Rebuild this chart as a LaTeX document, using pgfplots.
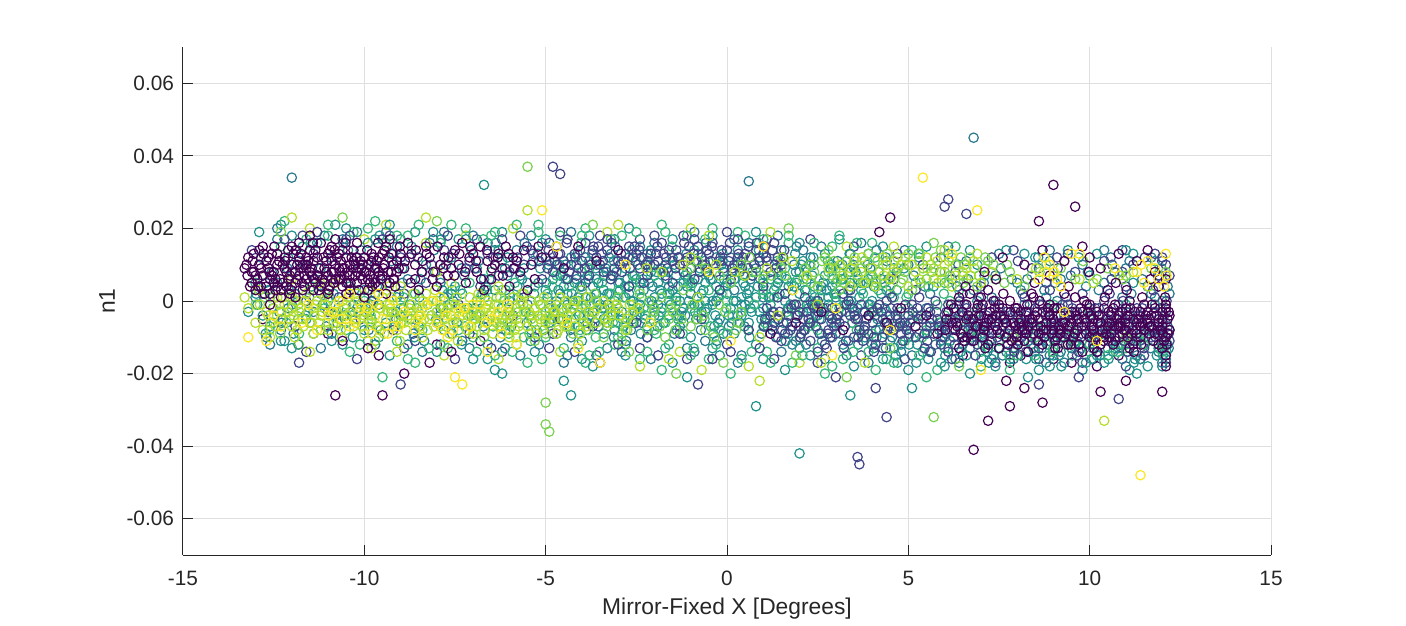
\documentclass[border=0pt]{standalone}
\usepackage{pgfplots}
\pgfplotsset{compat=1.18}
\usepackage{fontspec}
\setmainfont{Liberation Sans}
\definecolor{axgray}{RGB}{38,38,38}
\definecolor{gridgray}{RGB}{223,223,223}
\definecolor{cP}{RGB}{68,1,84}
\definecolor{cI}{RGB}{65,68,135}
\definecolor{cBT}{RGB}{42,120,142}
\definecolor{cT}{RGB}{33,145,140}
\definecolor{cGT}{RGB}{53,183,121}
\definecolor{cG}{RGB}{122,209,81}
\definecolor{cYG}{RGB}{181,222,43}
\definecolor{cY}{RGB}{253,231,37}
\pgfplotsset{sc/.style={only marks, mark=o, mark size=2.35pt, line width=0.6pt, color=#1}}
\begin{document}
\begin{tikzpicture}
\begin{axis}[
 scale only axis, width=544pt, height=254pt,
 xmin=-15, xmax=15, ymin=-70, ymax=70,
 xtick={-15,-10,-5,0,5,10,15},
 ytick={-60,-40,-20,0,20,40,60},
 yticklabels={-0.06,-0.04,-0.02,0,0.02,0.04,0.06},
 /pgf/number format/assume math mode=true,
 axis x line*=bottom, axis y line*=left,
 tick align=inside, major tick length=5.2pt,
 grid=major, major grid style={color=gridgray, line width=0.5pt},
 axis line style={color=axgray, line width=0.5pt},
 tick style={color=axgray, line width=0.5pt},
 ticklabel style={font=\fontsize{10.4}{12}\selectfont, text=axgray},
 xticklabel style={yshift=-4.5pt},
 yticklabel style={xshift=-1pt},
 xlabel={Mirror-Fixed X [Degrees]}, ylabel={n1},
 label style={font=\fontsize{11.4}{13}\selectfont, text=axgray},
 xlabel style={at={(axis description cs:0.5,0)}, anchor=base, yshift=-29.5pt},
 ylabel style={at={(axis description cs:0,0.5)}, anchor=base, yshift=34pt},
]
% fringe points
\addplot[sc=cBT] coordinates {
(-12.4,17)(-11.3,16)(-10.2,19)(-9.0,17)(-7.8,19)(-6.6,16)(-5.4,18)(-4.3,19)(-3.1,17)(-2.0,16)
(-0.9,19)(0.2,17)(1.4,18)(2.6,15)(3.7,16)(4.9,14)(6.1,15)(7.5,13)(8.9,14)(10.4,14)(11.7,12)
(-12.6,-12)(-11.2,-13)(-9.9,-11)(-8.4,-14)(-7.1,-13)(-5.7,-15)(-4.5,-17)(-3.3,-13)(-2.1,-16)(-0.9,-14)
(0.3,-17)(1.5,-14)(2.7,-16)(3.9,-17)(5.1,-15)(6.4,-17)(7.6,-15)(8.8,-17)(10.1,-16)(11.3,-15)(12.1,-16)
};
\addplot[sc=cT] coordinates {
(-12.0,18)(-10.8,21)(-9.7,17)(-8.6,19)(-7.4,17)(-6.2,19)(-5.0,17)(-3.8,18)(-2.7,20)(-1.5,17)
(-0.4,18)(0.8,19)(2.0,16)(3.1,17)(4.3,15)(5.5,15)(6.7,14)(8.2,13)(9.7,12)(11.2,13)
(-12.0,-13)(-10.6,-12)(-9.3,-15)(-7.9,-12)(-6.6,-16)(-5.3,-14)(-4.0,-16)(-2.8,-15)(-1.5,-17)(-0.2,-15)
(1.0,-16)(2.3,-15)(3.5,-18)(4.7,-17)(6.0,-18)(7.3,-16)(8.6,-19)(9.9,-17)(11.1,-19)(12.0,-18)
};
\addplot[sc=cI] coordinates {
(-11.7,18)(-10.5,17)(-9.3,18)(-8.1,17)(-6.9,17)(-5.7,18)(-4.6,19)(-3.5,18)(-2.4,17)(-1.2,18)
(0.0,19)(1.1,17)(2.3,17)(3.5,15)(4.7,13)(5.9,12)(7.9,14)(9.4,13)(10.9,14)(12.0,11)
(-11.6,-14)(-10.2,-16)(-8.9,-13)(-7.5,-16)(-6.2,-14)(-4.9,-13)(-3.6,-15)(-2.4,-13)(-1.1,-16)(0.1,-14)
(1.3,-16)(2.5,-17)(3.7,-15)(4.9,-16)(6.2,-16)(7.4,-17)(8.6,-16)(9.8,-17)(11.0,-18)(12.1,-17)
};
\addplot[sc=cGT] coordinates {
(-12.3,15)(-11.0,18)(-9.9,20)(-8.8,18)(-7.6,21)(-6.4,19)(-5.2,21)(-4.0,18)(-2.9,18)(-1.7,19)
(-0.6,17)(0.5,18)(1.7,16)(2.9,15)(4.0,16)(5.1,14)(6.3,15)
(-10.4,-14)(-8.6,-17)(-6.9,-14)(-5.5,-17)(-3.9,-17)(-2.2,-14)(-0.5,-16)(1.2,-17)(2.9,-18)(4.4,-16)
(5.8,-19)(7.0,-18)
};
\addplot[sc=cYG] coordinates {
(-11.5,20)(-9.4,21)(-7.2,18)(-5.9,20)(-3.3,19)(-1.0,20)(1.2,19)(3.3,15)(4.6,15)(6.0,14)
(6.9,13)(-10.0,17)(-8.3,16)
(-11.8,-12)(-9.1,-14)(-7.8,-15)(-6.3,-16)(-4.6,-14)(-1.3,-14)(0.6,-18)(2.0,-17)
};
\addplot[sc=cP] coordinates {
(-12.8,-5)(-11.0,-9)(-9.6,-15)(-8.0,-12)(-6.8,-11)(6.5,-15)(7.8,-17)(9.0,-16)(10.2,-18)(11.4,-16)
(12.1,-18)(8.1,-15)(10.8,-15)(9.5,-17)
};
% blue-teal
\addplot[sc=cBT] coordinates {
(-13.0,1)(-12.7,-10)(-12.4,20)(-12.1,-2)(-11.8,11)(-11.5,-6)(-11.2,2)(-10.9,-9)(-10.6,17)(-10.3,-1)
(-10.0,3)(-9.7,-12)(-9.4,19)(-9.1,-3)(-8.8,6)(-8.5,-7)(-8.2,16)(-7.9,-2)(-7.6,2)(-7.3,-11)
(-7.0,18)(-6.7,-5)(-6.4,3)(-6.1,-8)(-5.8,14)(-5.5,-1)(-5.2,5)(-4.9,-6)(-4.6,2)(-4.3,-10)
(-4.0,4)(-3.7,-3)(-3.4,7)(-3.1,-8)(-2.8,1)(-2.5,-4)(-2.2,10)(-1.9,-1)(-1.6,4)(-1.3,-7)
(-1.0,2)(-0.7,-3)(-0.4,6)(-0.1,-9)(0.2,3)(0.5,-1)(0.8,9)(1.1,-5)(1.4,5)(1.7,-2)
(2.0,8)(2.3,-6)(2.6,4)(2.9,-10)(3.2,6)(3.5,-3)(3.8,11)(4.1,-8)(4.4,3)(4.7,-4)
(5.0,10)(5.3,-9)(5.6,2)(5.9,-6)(6.2,6)(6.5,-12)(6.8,3)(7.1,-9)(7.4,7)(7.7,-14)
(8.0,5)(8.3,-11)(8.6,9)(8.9,-15)(9.2,6)(9.5,-13)(9.8,10)(10.1,-11)(10.4,5)(10.7,-13)
(11.0,9)(11.3,-11)(11.6,4)(11.9,-14)(12.1,7)(-3.9,12)(-2.4,15)(-0.8,13)(0.6,16)(2.1,14)
(3.4,13)(-4.4,-15)(-2.9,-14)(-1.1,-13)(0.4,-15)(1.8,-12)(3.3,-15)(4.8,-14)(6.3,-16)(7.9,-16)
(9.3,-17)(10.9,-16)(12.0,-17)(-12.0,34)(6.8,45)(0.6,33)(-1.0,2)(-1.2,-2)(-0.3,0)(0.3,-4)
(1.0,1)(-2.0,-3)(-2.7,4)(-3.3,-1)(-4.1,1)(-5.0,-3)(-6.0,0)(-6.9,-4)(-7.8,1)(-8.7,-5)
(-9.6,-1)(-10.5,-6)(-11.4,-3)(-12.3,-8)(2.5,-2)(3.0,1)(3.9,-1)(5.5,-2)(6.4,-1)(7.3,1)
(8.2,-1)(9.1,0)(10.0,-2)(10.9,1)(11.8,-1)(12.2,2)(7.6,-5)(9.0,-6)(10.6,-8)(11.4,-9)
(5.9,-11)(8.8,-9)(11.1,-4)(12.1,-6)
(-12.85,12)(-12.25,-5)(-11.65,10)(-11.05,-7)(-10.45,14)(-9.85,-3)(-9.25,11)(-8.65,-9)(-8.05,8)(-7.45,-6)
(-6.85,11)(-6.25,-10)(-5.65,6)(-5.05,-8)(-4.45,10)(-3.85,-6)(-3.25,12)(-2.65,-8)(-2.05,4)(-1.45,-9)
(-0.85,11)(-0.25,-6)(0.35,8)(0.95,-9)(1.55,12)(2.15,-8)(2.75,3)(3.35,-11)(3.95,9)(4.55,-10)
(5.15,7)(5.75,-12)(6.35,4)(6.95,-8)(7.55,9)(8.15,-6)(8.75,3)(9.35,-12)(9.95,8)(10.55,-10)
(11.15,2)(11.75,-8)(12.15,4)(-12.55,8)(-11.95,-9)(-11.35,6)(-10.75,-6)(-10.15,9)(-9.55,-8)(-8.95,5)
(-8.35,-11)(-7.75,10)(-7.15,-4)(-6.55,6)(-5.95,-7)(-5.35,11)(-4.75,-4)(-4.15,6)(-3.55,-7)(-2.95,5)
(-2.35,-6)(-1.75,8)(-1.15,-4)(-0.55,9)(0.05,-7)(0.65,6)(1.25,-7)(1.85,10)(2.45,-4)(3.05,11)
(3.65,-7)(4.25,6)(4.85,-7)(5.45,4)(6.05,-9)(6.65,6)(7.25,-11)(7.85,6)(8.45,-13)(9.05,5)
(9.65,-11)(10.25,3)(10.85,-12)(11.45,6)(12.05,-13)(-0.6,-11)(1.9,-11)(4.0,-12)(6.7,-13)(9.2,-14)
(-2.2,13)(0.1,12)(2.3,12)(4.4,11)(6.6,11)(8.9,11)(11.1,11)(-6.4,14)(-9.1,15)(-11.9,14)
(-12.72,5)(-12.12,9)(-11.52,1)(-10.92,12)(-10.32,-3)(-9.72,10)(-9.12,-5)(-8.52,12)(-7.92,-4)(-7.32,9)
(-6.72,-7)(-6.12,9)(-5.52,-6)(-4.92,10)(-4.32,-8)(-3.72,13)(-3.12,-10)(-2.52,11)(-1.92,-7)(-1.32,12)
(-0.72,-8)(-0.12,11)(0.48,-7)(1.08,12)(1.68,-9)(2.28,10)(2.88,-6)(3.48,10)(4.08,-4)(4.68,8)
(5.28,-5)(5.88,8)(6.48,-8)(7.08,5)(7.68,-10)(8.28,6)(8.88,-11)(9.48,7)(10.08,-13)(10.68,8)
(11.28,-10)(11.88,7)(12.18,-13)(5.58,-14)(7.18,-14)(8.68,-13)(10.28,-15)(11.68,-13)(-10.58,16)(-8.08,14)
(-5.58,16)(-3.08,15)(-0.58,16)(1.92,15)(4.12,14)(6.38,10)(8.58,12)(10.58,12)(11.98,9)(-12.28,-6)
(-9.88,-8)(-7.58,-9)(-5.18,-12)(-2.78,-11)(-0.28,-11)(2.18,-12)(4.38,-13)(6.88,-10)(9.58,-9)(11.38,-7)
};
% teal
\addplot[sc=cT] coordinates {
(-5.0,3)(-4.9,-2)(-4.8,6)(-4.7,0)(-4.6,-5)(-4.5,9)(-4.4,2)(-4.3,-3)(-4.2,5)(-4.1,-7)
(-4.0,8)(-3.9,1)(-3.8,-4)(-3.7,4)(-3.6,10)(-3.5,-1)(-3.4,3)(-3.3,-6)(-3.2,7)(-3.1,0)
(-3.0,5)(-2.9,-3)(-2.8,9)(-2.7,2)(-2.6,-5)(-2.5,6)(-2.4,-1)(-2.3,3)(-2.2,-7)(-2.1,8)
(-2.0,1)(-1.9,5)(-1.8,-2)(-1.7,10)(-1.6,-4)(-1.5,3)(-1.4,7)(-1.3,0)(-1.2,-6)(-1.1,4)
(-1.0,9)(-0.9,-1)(-0.8,6)(-0.7,2)(-0.6,-3)(-0.5,7)(-0.4,0)(-0.3,4)(-0.2,-5)(-0.1,8)
(0.0,2)(0.1,-2)(0.2,6)(0.3,10)(0.4,-1)(0.5,4)(0.6,-6)(0.7,7)(0.8,1)(0.9,-3)
(1.0,5)(1.1,9)(1.2,-1)(1.3,3)(1.4,-5)(1.5,7)(1.6,0)(1.7,4)(1.8,-7)(1.9,8)
(2.0,2)(2.1,-3)(2.2,6)(2.3,0)(2.4,10)(2.5,-4)(2.6,3)(2.7,7)(2.8,-1)(2.9,4)
(3.0,-6)(3.1,8)(3.2,1)(3.3,-3)(3.4,5)(3.5,9)(3.6,-2)(3.7,3)(3.8,-7)(3.9,6)
(4.0,0)(-4.9,11)(-4.3,12)(-3.8,11)(-3.2,13)(-2.7,12)(-2.1,14)(-1.5,12)(-0.9,14)(-0.3,12)
(0.3,14)(0.9,12)(1.5,14)(2.1,11)(2.7,13)(3.3,11)(3.9,13)(-4.7,-9)(-4.0,-11)(-3.4,-9)
(-2.8,-12)(-2.2,-10)(-1.6,-12)(-1.0,-10)(-0.4,-13)(0.2,-9)(0.8,-12)(1.4,-10)(2.0,-13)(2.6,-9)
(3.2,-12)(3.8,-10)(-4.5,4)(-3.9,-1)(-3.3,2)(-2.6,0)(-2.0,-4)(-1.4,1)(-0.8,-1)(-0.2,3)
(0.4,1)(1.0,-2)(1.6,2)(2.2,-1)(2.8,1)(3.4,-1)(-4.2,-1)(-3.6,6)(-3.0,-2)(-2.4,5)
(-1.8,2)(-1.2,5)(-0.6,0)(0.0,5)(0.6,3)(1.2,6)(1.8,3)(2.4,4)(3.0,2)(3.6,6)
(-13.2,-3)(-12.9,19)(-12.6,-7)(-12.3,21)(-12.0,-1)(-11.7,15)(-11.4,-9)(-11.1,18)(-10.8,-4)(-10.5,20)
(-10.2,-2)(-9.9,16)(-9.6,-10)(-9.3,21)(-9.0,-4)(-8.7,15)(-8.4,-2)(-8.1,19)(-7.8,-8)(-7.5,4)
(-7.2,17)(-6.9,0)(-6.6,-12)(-6.3,14)(-6.0,-3)(-5.7,7)(-5.4,-8)(-5.1,16)(-12.4,5)(-11.9,2)
(-11.0,0)(-10.4,4)(-9.7,2)(-9.1,1)(-8.5,3)(-7.9,5)(-7.3,2)(-6.7,6)(-6.1,3)(-5.5,5)
(-8.3,10)(-7.6,12)(-6.9,9)(-6.2,11)(-5.6,9)(-9.2,13)(-10.1,14)(-11.2,9)(-12.1,12)(-12.8,-4)
(-13.0,5)(-12.2,-11)(-11.6,-5)(-10.9,-11)(-10.0,-8)(-9.4,-6)(-8.8,-12)(-8.0,-14)(-7.0,-16)(-6.4,-19)
(4.2,-8)(4.5,2)(4.8,-12)(5.1,-5)(5.4,-14)(5.7,4)(6.0,-10)(6.3,-3)(6.6,-15)(6.9,0)
(7.2,-13)(7.5,-6)(7.8,-16)(8.1,3)(8.4,-12)(8.7,-7)(9.0,-15)(9.3,-4)(9.6,-12)(9.9,4)
(10.2,-15)(10.5,-9)(10.8,-13)(11.1,-6)(11.4,-16)(11.7,2)(12.0,-12)(12.2,-8)(4.6,9)(5.3,12)
(6.1,13)(6.9,10)(7.7,14)(8.5,12)(9.4,14)(10.2,13)(11.0,14)(11.8,11)(4.3,-16)(5.9,-17)
(7.4,-18)(8.9,-18)(10.4,-17)(11.6,-18)(5.0,-19)(6.7,-20)(8.3,-21)(9.8,-19)(11.3,-20)(4.4,-3)
(5.6,-7)(6.8,-5)(8.0,-9)(9.2,-10)(10.6,-11)(11.9,-13)(7.1,7)(8.8,1)(10.0,7)(11.2,5)
(-6.7,32)(2.0,-42)(0.8,-29)(-4.3,-26)(-4.5,-22)(-1.1,-21)(1.6,-19)(-12.3,-11)(-6.2,-20)(3.4,-26)
(5.1,-24)(-3.7,-18)
(-4.95,1)(-4.85,-5)(-4.75,8)(-4.65,3)(-4.55,-2)(-4.45,6)(-4.35,-7)(-4.25,0)(-4.15,10)(-4.05,4)
(-3.95,-4)(-3.85,7)(-3.75,1)(-3.65,-6)(-3.55,5)(-3.45,-2)(-3.35,9)(-3.25,2)(-3.15,-4)(-3.05,8)
(-2.95,3)(-2.85,-7)(-2.75,6)(-2.65,0)(-2.55,-3)(-2.45,10)(-2.35,1)(-2.25,-5)(-2.15,5)(-2.05,-1)
(-1.95,8)(-1.85,3)(-1.75,-6)(-1.65,6)(-1.55,-1)(-1.45,10)(-1.35,4)(-1.25,-3)(-1.15,7)(-1.05,0)
(-0.95,5)(-0.85,-5)(-0.75,9)(-0.65,3)(-0.55,-2)(-0.45,6)(-0.35,-7)(-0.25,1)(-0.15,10)(-0.05,4)
(0.05,-4)(0.15,8)(0.25,0)(0.35,-6)(0.45,5)(0.55,2)(0.65,-2)(0.75,10)(0.85,4)(0.95,-5)
(1.05,7)(1.15,1)(1.25,-3)(1.35,9)(1.45,2)(1.55,-6)(1.65,6)(1.75,-1)(1.85,4)(1.95,-4)
(2.05,10)(2.15,3)(2.25,-2)(2.35,7)(2.45,0)(2.55,-5)(2.65,5)(2.75,-2)(2.85,9)(2.95,2)
(3.05,-4)(3.15,6)(3.25,-1)(3.35,3)(3.45,-6)(3.55,8)(3.65,1)(3.75,-3)(3.85,5)(3.95,-1)
(4.05,4)(4.15,-5)(4.25,2)(4.35,-2)(4.45,6)(-4.6,7)(-3.6,2)(-2.6,7)(-1.6,0)(-0.6,5)
(0.4,-4)(1.4,6)(2.4,-1)(3.4,8)(-4.4,-1)(-3.4,-5)(-2.4,-3)(-1.4,-4)(-0.4,-1)(0.6,0)
(4.05,-13)(4.35,-9)(4.65,-15)(4.95,-7)(5.25,-12)(5.55,-16)(5.85,-8)(6.15,-11)(6.45,-14)(6.75,-6)
(7.05,-12)(7.35,-15)(7.65,-9)(7.95,-13)(8.25,-16)(8.55,-7)(8.85,-12)(9.15,-15)(9.45,-10)(9.75,-13)
(10.05,-16)(10.35,-9)(10.65,-14)(10.95,-11)(11.25,-16)(11.55,-10)(11.85,-15)(12.15,-12)(5.0,-10)(6.0,-13)
(7.0,-9)(8.0,-12)(9.0,-9)(10.0,-12)(11.0,-8)(12.0,-10)(4.5,-11)(6.5,-8)(8.5,-14)(10.5,-13)
(-12.95,-1)(-12.65,3)(-12.35,-3)(-12.05,1)(-11.75,-2)(-11.45,4)(-11.15,-1)(-10.85,2)(-10.55,-4)(-10.25,1)
(-9.95,-2)(-9.65,4)(-9.35,-3)(-9.05,2)(-8.75,-1)(-8.45,6)(-8.15,-4)(-7.85,3)(-7.55,0)(-7.25,7)
(-6.95,-2)(-6.65,4)(-6.35,-6)(-6.05,7)(-5.75,1)(-5.45,-4)(-5.15,9)(-8.95,9)(-7.05,14)(-6.05,12)
(-4.98,5)(-4.72,-1)(-4.52,7)(-4.28,2)(-4.08,-4)(-3.82,6)(-3.58,0)(-3.32,8)(-3.08,-3)(-2.82,4)
(-2.58,-6)(-2.32,6)(-2.08,0)(-1.82,9)(-1.58,2)(-1.32,-4)(-1.08,6)(-0.82,1)(-0.58,8)(-0.32,-4)
(-0.08,6)(0.18,0)(0.42,9)(0.68,-3)(0.92,6)(1.18,1)(1.42,8)(1.68,-2)(1.92,5)(2.18,9)
(2.42,1)(2.68,-3)(2.92,6)(3.18,10)(3.42,0)(3.68,5)(3.92,-4)(4.18,8)(4.42,-6)(4.68,3)
(-4.88,-6)(-4.38,-4)(-3.88,-8)(-3.38,-2)(-2.88,-5)(-2.38,-9)(-1.88,-4)(-1.38,-8)(-0.88,-3)(-0.38,-9)
(0.12,-6)(0.62,-10)(1.12,-7)(1.62,-11)(2.12,-8)(2.62,-11)(3.12,-9)(3.62,-12)(4.12,-10)(4.62,-13)
(-4.62,10)(-4.12,13)(-3.62,9)(-3.12,11)(-2.62,14)(-2.12,10)(-1.62,8)(-1.12,13)(-0.62,11)(-0.12,13)
(0.38,11)(0.88,14)(1.38,11)(1.88,13)(2.38,12)(2.88,10)(3.38,13)(3.88,10)(4.38,12)(4.88,9)
(-12.98,2)(-12.52,-2)(-12.08,3)(-11.62,-4)(-11.18,4)(-10.72,-2)(-10.28,3)(-9.82,-1)(-9.38,5)(-8.92,-2)
(-8.48,1)(-8.02,-5)(-7.58,3)(-7.12,-2)(-6.68,1)(-6.22,-2)(-5.78,4)(-5.32,2)(-12.72,-9)(-11.82,-12)
(-10.32,-10)(-8.62,-10)(-7.32,-12)(-6.12,-13)(-5.42,-11)(-11.48,16)(-9.58,18)(-7.88,17)(-6.38,16)(-5.22,13)
(5.02,-12)(5.52,-9)(6.02,-15)(6.52,-11)(7.02,-16)(7.52,-13)(8.02,-8)(8.52,-16)(9.02,-11)(9.52,-15)
(10.02,-9)(10.52,-16)(11.02,-14)(11.52,-12)(12.02,-15)(5.22,-17)(7.22,-17)(9.22,-18)(11.22,-17)(12.12,-14)
};
% green-teal
\addplot[sc=cGT] coordinates {
(-8.0,-3)(-7.7,2)(-7.4,-8)(-7.1,5)(-6.8,-1)(-6.5,8)(-6.2,-5)(-5.9,1)(-5.6,-10)(-5.3,4)
(-5.0,-3)(-4.7,7)(-4.4,-6)(-4.1,0)(-3.8,9)(-3.5,-4)(-3.2,2)(-2.9,-9)(-2.6,5)(-2.3,-2)
(-2.0,7)(-1.7,-6)(-1.4,0)(-1.1,8)(-0.8,-4)(-0.5,3)(-0.2,-8)(0.1,5)(0.4,-3)(0.7,8)
(1.0,-7)(1.3,1)(1.6,9)(1.9,-4)(2.2,3)(2.5,-8)(2.8,8)(3.1,-2)(3.4,4)(3.7,-9)
(4.0,7)(4.3,-5)(4.6,1)(4.9,-11)(5.2,5)(5.5,-8)(5.8,-1)(6.1,-13)(6.4,3)(6.7,-9)
(7.0,-14)(7.5,-11)(8.0,-15)(8.5,-10)(9.0,-13)(9.5,-8)(10.0,-14)(10.5,-6)(11.0,-12)(11.5,-9)
(12.0,-14)(-12.2,22)(-11.6,17)(-11.0,21)(-10.3,19)(-9.7,22)(-9.1,18)(-8.5,21)(-7.9,16)(-7.2,20)
(-6.5,18)(-5.8,21)(-5.2,19)(-4.6,18)(-3.9,20)(-3.2,17)(-2.5,19)(-1.8,21)(-1.1,18)(-0.4,20)
(0.3,19)(1.0,17)(1.7,18)(2.4,16)(3.1,18)(-12.5,-6)(-11.8,-9)(-11.1,-2)(-10.5,-8)(-9.8,-5)
(-9.1,-11)(-8.4,-8)(-7.7,-13)(-7.0,-10)(-6.4,-15)(-5.8,-12)(-5.1,-16)(-4.5,-13)(-3.8,-15)(-3.1,-12)
(-2.4,-16)(-1.7,-13)(-1.0,-15)(-0.3,-12)(0.4,-16)(1.1,-14)(1.8,-17)(2.5,-13)(3.2,-16)(3.9,-14)
(4.6,-17)(5.3,-15)(-9.5,-21)(-8.8,-16)(-1.8,-19)(0.1,-20)(2.7,-20)(4.1,-19)(5.5,-21)(7.8,-19)
(-10.0,0)(-9.0,-2)(-8.6,2)(-6.0,2)(-4.0,-2)(-3.0,3)(-1.0,-2)(0.0,0)(1.0,3)(2.0,-1)
(3.0,0)(4.0,-2)(5.0,2)(6.0,-4)(7.0,-2)(8.0,-4)(9.0,-1)(10.0,-3)(11.0,-1)(12.0,0)
(-7.95,-6)(-7.65,-1)(-7.35,3)(-7.05,-4)(-6.75,2)(-6.45,-7)(-6.15,0)(-5.85,5)(-5.55,-3)(-5.25,-8)
(-4.95,2)(-4.65,-5)(-4.35,4)(-4.05,-8)(-3.75,-1)(-3.45,5)(-3.15,-6)(-2.85,1)(-2.55,7)(-2.25,-4)
(-1.95,-9)(-1.65,2)(-1.35,-5)(-1.05,5)(-0.75,-1)(-0.45,-7)(-0.15,2)(0.15,-4)(0.45,7)(0.75,-1)
(1.05,-6)(1.35,4)(1.65,-3)(1.95,6)(2.25,-7)(2.55,1)(2.85,-4)(3.15,6)(3.45,-6)(3.75,2)
(4.05,-3)(4.35,5)(4.65,-7)(4.95,1)(5.25,-4)(5.55,4)(5.85,-6)(6.15,0)(6.45,-4)(6.75,-10)
(-8.55,-2)(-9.15,-7)(-9.75,0)(-10.35,-4)(-10.95,1)(-11.55,-3)(-12.15,-6)(-12.75,1)(-2.0,-8)(-1.0,4)
(0.0,-9)(1.0,2)(2.0,-10)(3.0,5)(4.0,-9)(5.0,-2)(6.0,5)(7.0,-8)(8.0,-12)(9.0,-10)
(10.0,-12)(11.0,-13)(12.0,-9)(7.5,-13)(8.5,-15)(9.5,-11)(10.5,-15)(11.5,-12)(-3.0,-10)(-5.0,-10)
(-7.82,-2)(-7.22,-7)(-6.62,3)(-6.02,-9)(-5.42,-4)(-4.82,4)(-4.22,-5)(-3.62,-10)(-3.02,-6)(-2.42,3)
(-1.82,-3)(-1.22,-9)(-0.62,-5)(-0.02,-2)(0.58,-8)(1.18,-4)(1.78,5)(2.38,-6)(2.98,2)(3.58,-8)
(4.18,3)(4.78,-3)(5.38,-10)(5.98,2)(6.58,-7)(7.18,-12)(7.78,-15)(8.38,-12)(8.98,-14)(9.58,-12)
(10.18,-10)(10.78,-14)(11.38,-11)(11.98,-12)(-11.82,-5)(-10.82,-3)(-9.62,-7)(-8.92,1)(-12.62,-8)(-10.12,-12)
(-0.92,-13)(0.68,-14)(2.08,-15)(3.48,-14)(-3.52,-14)(-5.92,-14)(-8.22,-13)(1.48,11)(2.78,11)(4.08,12)
(-1.52,15)(-4.02,16)(-6.72,17)(-9.42,16)(0.88,16)(3.58,16)(5.28,13)(6.88,-3)(8.48,-7)(10.48,-9)
};
% indigo
\addplot[sc=cI] coordinates {
(-5.0,12)(-4.8,8)(-4.7,15)(-4.5,11)(-4.4,6)(-4.2,13)(-4.1,9)(-3.9,16)(-3.8,7)(-3.6,12)
(-3.5,10)(-3.3,14)(-3.2,6)(-3.0,11)(-2.9,8)(-2.7,15)(-2.6,12)(-2.4,9)(-2.3,5)(-2.1,13)
(-2.0,10)(-1.8,16)(-1.7,7)(-1.5,11)(-1.4,14)(-1.2,8)(-1.1,12)(-0.9,6)(-0.8,15)(-0.6,10)
(-0.5,13)(-0.3,8)(-0.2,11)(0.0,14)(0.1,6)(0.3,12)(0.4,9)(0.6,15)(0.7,7)(0.9,11)
(1.0,13)(1.2,8)(1.3,16)(1.5,10)(-4.9,16)(-4.3,10)(-3.7,14)(-3.1,9)(-2.5,13)(-1.9,11)
(-1.3,10)(-0.7,12)(-0.1,9)(0.5,13)(1.1,11)(-4.6,13)(-4.0,11)(-3.4,8)(-2.8,13)(-2.2,7)
(-1.6,14)(-1.0,9)(-0.4,16)(0.2,10)(0.8,14)(1.4,12)(-4.4,17)(-3.3,17)(-2.0,18)(-0.9,17)
(0.3,17)(-3.9,5)(-2.7,4)(-1.5,5)(-0.2,3)(1.0,4)(-5.6,10)(-6.3,7)(-7.1,11)(-7.9,6)
(1.1,-2)(1.3,-6)(1.4,1)(1.6,-9)(1.7,-4)(1.9,-1)(2.0,-7)(2.2,-3)(2.3,-11)(2.5,0)
(2.6,-5)(2.8,-8)(2.9,-2)(3.1,-6)(3.2,2)(3.4,-4)(3.5,-10)(3.7,-1)(3.8,-7)(4.0,-3)
(4.1,-12)(4.3,-5)(4.4,0)(4.6,-8)(4.7,-2)(4.9,-6)(5.0,-4)(5.2,-10)(5.3,1)(5.5,-7)
(5.6,-3)(5.8,-5)(5.9,-12)(6.1,-1)(6.2,-8)(6.4,-4)(6.5,2)(6.7,-6)(6.8,-9)(7.0,-2)
(7.1,-5)(7.3,-11)(7.4,0)(7.6,-7)(7.7,-3)(7.9,-9)(8.0,-5)(8.2,1)(8.3,-8)(8.5,-2)
(8.6,-13)(8.8,-6)(8.9,3)(9.1,-4)(9.2,-9)(9.4,-1)(9.5,-11)(9.7,-6)(9.8,2)(10.0,-4)
(10.1,-12)(10.3,-7)(10.4,0)(10.6,-3)(10.7,-10)(10.9,-5)(11.0,4)(11.2,-8)(11.3,-2)(11.5,-13)
(11.6,-6)(11.8,1)(11.9,-9)(12.1,-3)(12.2,-11)(1.2,-4)(1.8,-7)(2.4,-2)(3.0,-9)(3.6,-5)
(4.2,-1)(4.8,-9)(5.4,-5)(6.0,-7)(6.6,-2)(7.2,-8)(7.8,-4)(8.4,-10)(9.0,-7)(9.6,-3)
(10.2,-9)(10.8,-1)(11.4,-4)(12.0,-8)(1.5,-11)(2.1,-5)(2.7,-12)(3.3,-1)(3.9,-9)(4.5,-4)
(5.1,-1)(5.7,-9)(6.3,-5)(6.9,-12)(7.5,-3)(8.1,-6)(8.7,-1)(9.3,-5)(9.9,-8)(10.5,-5)
(11.1,-7)(11.7,-10)(2.0,-3)(2.9,-5)(3.8,-3)(4.7,-5)(5.6,-6)(6.5,-3)(7.4,-6)(8.3,-3)
(9.2,-2)(10.1,-6)(11.0,-3)(11.9,-5)(1.6,2)(2.5,-14)(3.4,3)(4.3,-13)(5.2,3)(6.1,-14)
(7.0,4)(7.9,-13)(8.8,5)(9.7,-14)(10.6,6)(11.5,-15)(12.2,7)(12.0,12)(11.2,10)(10.4,11)
(9.6,8)(8.4,9)(7.3,12)(6.3,8)(5.4,10)(4.6,6)(11.8,13)(10.9,8)(9.1,12)(12.1,10)
(-13.1,14)(-12.8,2)(-12.5,-4)(-12.2,17)(-11.9,-7)(-11.6,0)(-11.3,19)(-11.0,-3)(-10.7,1)(-10.4,18)
(-10.1,-5)(-9.8,0)(-9.5,17)(-9.2,-8)(-8.9,2)(-8.6,-11)(-8.3,5)(-8.0,-6)(-7.7,18)(-7.4,-1)
(-7.1,-9)(-6.8,4)(-6.5,-13)(-6.2,17)(-5.9,-4)(-5.6,1)(-5.3,-10)(-5.1,6)(-12.0,8)(-11.4,13)
(-10.9,6)(-10.2,12)(-9.6,7)(-9.0,12)(-8.4,8)(-7.8,14)(-7.2,9)(-6.6,13)(-6.0,8)(-5.4,14)
(-4.8,-9)(-4.2,-14)(-3.7,-7)(-3.0,-12)(-2.5,-6)(-1.9,-15)(-1.3,-9)(-0.7,-5)(0.0,-12)(0.6,-8)
(-3.5,-17)(-2.2,-10)(-0.4,-16)(0.9,-13)(-4.6,-5)
(-4.8,37)(3.6,-43)(3.65,-45)(4.4,-32)(6.1,28)(6.0,26)(-4.6,35)(6.6,24)(8.6,-23)(9.7,-21)
(3.0,-21)(-11.8,-17)(-9.0,-23)(-0.8,-23)(4.1,-24)(10.8,-27)
(-4.95,9)(-4.65,13)(-4.35,8)(-4.05,14)(-3.75,10)(-3.45,13)(-3.15,7)(-2.85,11)(-2.55,15)(-2.25,10)
(-1.95,13)(-1.65,9)(-1.35,12)(-1.05,15)(-0.75,8)(-0.45,11)(-0.15,14)(0.15,9)(0.45,12)(0.75,10)
(1.05,15)(1.35,9)(-4.75,11)(-4.15,7)(-3.55,15)(-2.95,10)(-2.35,12)(-1.75,13)(-1.15,11)(-0.55,14)
(0.05,11)(0.65,12)(1.25,14)(-5.35,13)(-5.85,9)(-6.45,12)(-6.95,9)(-7.55,13)(-8.15,10)(-8.75,12)
(1.05,-5)(1.25,-8)(1.45,-3)(1.65,-6)(1.85,-1)(2.05,-9)(2.25,-5)(2.45,-7)(2.65,-2)(2.85,-10)
(3.05,-4)(3.25,-7)(3.45,-2)(3.65,-8)(3.85,-5)(4.05,-10)(4.25,-3)(4.45,-7)(4.65,-4)(4.85,-11)
(5.05,-6)(5.25,-2)(5.45,-9)(5.65,-5)(5.85,-7)(6.05,-3)(6.25,-10)(6.45,-6)(6.65,-8)(6.85,-4)
(7.05,-7)(7.25,-1)(7.45,-10)(7.65,-4)(7.85,-6)(8.05,-8)(8.25,-4)(8.45,-6)(8.65,-9)(8.85,-3)
(9.05,-6)(9.25,-1)(9.45,-9)(9.65,-3)(9.85,-7)(10.05,-10)(10.25,-2)(10.45,-5)(10.65,-8)(10.85,-3)
(11.05,-6)(11.25,-11)(11.45,-2)(11.65,-5)(11.85,-8)(12.05,-4)(12.15,-7)(1.35,-10)(1.95,-4)(2.55,-9)
(3.15,-3)(3.75,-11)(4.35,-6)(4.95,-8)(5.55,-2)(6.15,-5)(6.75,-11)(7.35,-8)(7.95,-3)(8.55,-11)
(9.15,-8)(9.75,-10)(10.35,-4)(10.95,-11)(11.55,-8)(12.1,-10)(1.75,-8)(2.35,-1)(2.95,-7)(3.55,-5)
(4.15,-2)(4.75,-7)(5.35,-4)(5.95,-10)(6.55,-1)(7.15,-4)(7.75,-9)(8.35,-1)(8.95,-8)(9.55,-5)
(10.15,-2)(10.75,-7)(11.35,-4)(11.95,-2)(2.15,1)(3.35,0)(4.55,1)(5.75,0)(6.95,1)(8.15,2)
(9.35,1)(10.55,2)(11.75,3)(2.75,-13)(4.05,-14)(5.45,-13)(6.85,-15)(8.25,-14)(9.65,-15)(11.05,-14)
(-4.92,14)(-4.68,10)(-4.42,16)(-4.18,12)(-3.92,9)(-3.68,15)(-3.42,11)(-3.18,16)(-2.92,13)(-2.68,9)
(-2.42,14)(-2.18,11)(-1.92,15)(-1.68,12)(-1.42,9)(-1.18,16)(-0.92,13)(-0.68,10)(-0.42,15)(-0.18,12)
(0.08,16)(0.32,13)(0.58,9)(0.82,16)(1.08,12)(1.32,10)(1.58,14)(-5.18,11)(-5.52,15)(-5.78,12)
(1.02,-7)(1.28,-3)(1.52,-8)(1.78,-2)(2.02,-10)(2.28,-6)(2.52,-3)(2.78,-9)(3.02,-5)(3.28,-11)
(3.52,-4)(3.78,-8)(4.02,-6)(4.28,-10)(4.52,-2)(4.78,-6)(5.02,-9)(5.28,-5)(5.52,-11)(5.78,-3)
(6.02,-6)(6.28,-12)(6.52,-4)(6.78,-7)(7.02,-10)(7.28,-6)(7.52,-2)(7.78,-8)(8.02,-11)(8.28,-6)
(8.52,-8)(8.78,-4)(9.02,-10)(9.28,-7)(9.52,-2)(9.78,-9)(10.02,-5)(10.28,-8)(10.52,-11)(10.78,-4)
(11.02,-9)(11.28,-5)(11.52,-7)(11.78,-3)(12.02,-6)(12.18,-9)(1.42,-5)(2.12,-8)(2.82,-4)(3.62,-10)
(4.42,-8)(5.12,-3)(5.92,-8)(6.72,-5)(7.42,-4)(8.12,-10)(8.92,-5)(9.72,-12)(10.42,-7)(11.12,-11)
(11.82,-10)(3.22,-13)(5.62,-14)(7.92,-14)(10.22,-14)(4.92,-1)(6.42,0)(8.62,-1)(10.92,0)(12.12,0)
(9.12,9)(10.62,10)(11.52,12)(8.02,11)(11.92,7)
};
% green
\addplot[sc=cG] coordinates {
(-7.0,-3)(-6.8,1)(-6.6,-6)(-6.4,-1)(-6.2,3)(-6.0,-8)(-5.8,-2)(-5.6,2)(-5.4,-5)(-5.2,0)
(-5.0,-9)(-4.8,-3)(-4.6,1)(-4.4,-7)(-4.2,-1)(-4.0,3)(-3.8,-5)(-3.6,0)(-3.4,-10)(-3.2,-3)
(-3.0,1)(-2.8,-6)(-2.6,-1)(-2.4,2)(-2.2,-8)(-2.0,-2)(-1.8,1)(-1.6,-5)(-1.4,-1)(-1.2,3)
(-1.0,-7)(-6.9,-7)(-6.3,-4)(-5.7,-6)(-5.1,-4)(-4.5,-5)(-3.9,-2)(-3.3,-7)(-2.7,-4)(-2.1,-5)
(-1.5,-3)(-7.5,-5)(-8.0,0)(-8.5,-4)(-9.0,-6)(-9.5,1)(-10.0,-3)(-10.5,-1)(-11.0,-6)(-11.5,3)
(-12.0,-2)(-12.6,1)(-13.0,-1)(-6.7,-10)(-5.3,-11)(-4.1,-12)(-2.9,-11)(-1.7,-10)(-0.6,-8)(0.3,-6)
(2.1,6)(2.3,10)(2.5,4)(2.7,12)(2.9,7)(3.1,3)(3.3,11)(3.5,5)(3.7,9)(3.9,13)
(4.1,6)(4.3,10)(4.5,4)(4.7,12)(4.9,8)(5.1,3)(5.3,11)(5.5,6)(5.7,9)(5.9,14)
(6.1,5)(6.3,10)(6.5,7)(6.7,12)(6.9,4)(7.1,9)(2.4,8)(3.0,9)(3.6,7)(4.2,8)
(4.8,5)(5.4,9)(6.0,8)(6.6,6)(7.2,11)(2.8,14)(3.8,11)(5.0,13)(6.2,12)(7.4,6)
(1.5,9)(1.0,6)(0.4,10)(-0.2,7)(-0.8,11)(7.8,8)(8.2,4)(8.8,10)(9.6,6)(10.5,9)
(-5.5,37)(-6.1,-4)(-5.0,-28)(-5.0,-34)(-4.9,-36)(5.7,-32)(-12.3,19)(-10.6,23)(-8.0,22)(-3.7,21)
(1.7,20)(5.7,16)(7.9,-10)(9.4,-12)(11.0,-10)(-2.7,-14)(-0.1,-17)(1.9,-15)(4.5,-13)(6.4,-18)
(-7.8,-12)(-9.7,-11)(-11.2,-8)(3.3,-21)(-1.4,-20)
(-6.95,-5)(-6.65,-2)(-6.35,1)(-6.05,-6)(-5.75,-3)(-5.45,-9)(-5.15,-1)(-4.85,-6)(-4.55,-2)(-4.25,-9)
(-3.95,-4)(-3.65,2)(-3.35,-5)(-3.05,-1)(-2.75,-8)(-2.45,-2)(-2.15,0)(-1.85,-7)(-1.55,-2)(-1.25,-5)
(-0.95,-1)(-0.65,-4)(-0.35,-10)(-0.05,-3)(0.25,-8)(-7.35,-2)(-7.75,-7)(-8.25,-1)(-8.75,-5)(-9.25,-3)
(2.15,9)(2.55,6)(2.95,11)(3.35,8)(3.75,5)(4.15,11)(4.55,7)(4.95,10)(5.35,5)(5.75,12)
(6.15,7)(6.55,10)(6.95,7)(7.35,10)(3.05,6)(3.95,7)(4.85,6)(5.65,8)(6.45,12)(7.65,5)
(1.6,7)(0.8,8)(0.1,5)(-0.6,9)(8.4,7)(9.2,9)(10.2,6)(11.0,7)(11.7,9)(12.1,8)
(-6.82,-4)(-6.22,-7)(-5.62,-1)(-5.02,-5)(-4.42,-2)(-3.82,-8)(-3.22,-2)(-2.62,-6)(-2.02,-3)(-1.42,-8)
(-0.82,-5)(-0.22,-1)(0.38,-3)(-7.62,-4)(-8.42,-6)(-9.82,-4)(2.32,5)(2.92,9)(3.52,12)(4.12,5)
(4.72,9)(5.32,13)(5.92,6)(6.52,5)(7.12,12)(2.62,11)(3.22,5)(4.42,13)(5.62,10)(6.82,9)
(-1.02,9)(0.62,12)(1.22,7)(7.72,10)(8.62,8)(9.82,11)(10.92,6)(-10.22,-6)(-11.82,-1)(-12.32,-9)
};
% yellow-green
\addplot[sc=cYG] coordinates {
(-12.5,-2)(-12.4,1)(-12.3,-5)(-12.2,-1)(-12.0,-7)(-11.9,0)(-11.8,-3)(-11.6,2)(-11.5,-6)(-11.4,-2)
(-11.2,-4)(-11.1,1)(-11.0,-8)(-10.8,-1)(-10.7,-5)(-10.6,0)(-10.4,-3)(-10.3,-7)(-10.2,2)(-10.0,-4)
(-9.9,-1)(-9.8,-6)(-9.6,-2)(-9.5,1)(-9.4,-5)(-9.2,-3)(-9.1,-8)(-9.0,0)(-8.8,-4)(-8.7,-1)
(-8.6,-6)(-8.4,-2)(-8.3,2)(-8.2,-5)(-8.0,-3)(-7.9,-7)(-7.8,0)(-7.6,-4)(-7.5,-1)(-7.4,-6)
(-7.2,-2)(-7.1,1)(-7.0,-5)(-6.8,-3)(-6.7,-8)(-6.6,0)(-6.4,-4)(-6.3,-1)(-6.2,-6)(-6.0,-2)
(-5.9,1)(-5.8,-5)(-5.6,-3)(-5.5,-7)(-5.4,0)(-5.2,-4)(-5.1,-1)(-5.0,-6)(-4.8,-2)(-4.6,1)
(-4.4,-4)(-4.2,-7)(-4.0,-1)(-3.8,-3)(-3.6,-6)(-3.4,0)(-3.2,-4)(-3.0,-2)(-2.8,-8)(-2.6,-3)
(-12.1,-3)(-11.7,-5)(-11.3,0)(-10.9,-3)(-10.5,-5)(-10.1,-1)(-9.7,-4)(-9.3,-1)(-8.9,-6)(-8.5,-3)
(-8.1,0)(-7.7,-2)(-7.3,-4)(-6.9,-1)(-6.5,-3)(-6.1,-4)(-5.7,-1)(-5.3,-2)(-4.9,-4)(-4.5,-3)
(-13.3,1)(-13.2,-2)(-13.0,-6)(-12.9,3)(-12.8,-8)(-12.7,-3)(-13.1,5)(-12.6,-10)(-11.4,-9)(-10.0,-9)
(-8.4,-10)(-7.0,-9)(-6.0,-10)(-4.7,-9)(-9.0,4)(-7.6,5)(-6.3,4)(-10.8,5)(-12.0,6)(-8.0,8)
(3.2,7)(3.5,11)(3.8,5)(4.0,9)(4.3,12)(4.5,6)(4.8,10)(5.0,4)(5.2,8)(5.5,12)
(5.7,6)(6.0,10)(6.2,4)(6.5,8)(6.8,11)(7.0,5)(4.1,4)(4.6,8)(5.3,6)(5.8,11)
(6.3,7)(3.7,8)(4.4,10)(5.1,10)(5.9,8)(6.6,9)(3.4,4)(2.8,9)(2.2,7)(7.3,8)
(1.8,11)(1.1,9)(0.5,7)(-0.3,10)(-1.0,12)(-1.8,8)(8.0,6)(9.0,7)(10.1,5)(11.2,8)
(-11.5,-14)(-9.8,-13)(-2.4,-18)(-0.7,-19)(0.9,-22)(2.6,-17)(10.4,-33)(-12.0,23)(-8.3,23)(-5.5,25)
(-3.0,21)(-0.5,18)(0.9,-10)(1.4,-4)(2.5,-1)(-1.6,-16)(3.8,-17)(-0.8,1)
(-12.65,-4)(-12.35,-1)(-12.05,-5)(-11.75,-2)(-11.45,-6)(-11.15,-3)(-10.85,-6)(-10.55,-2)(-10.25,-5)(-9.95,-3)
(-9.65,-7)(-9.35,-3)(-9.05,-5)(-8.75,-2)(-8.45,-7)(-8.15,-4)(-7.85,-2)(-7.55,-6)(-7.25,-3)(-6.95,-5)
(-6.65,-2)(-6.35,-6)(-6.05,-3)(-5.75,-7)(-5.45,-3)(-5.15,-5)(-4.85,-1)(-4.55,-5)(-4.25,-2)(-3.95,-6)
(-3.65,-3)(-3.35,-5)(-3.05,-1)(-2.75,-5)(-2.45,-2)(-12.45,-7)(-11.85,-8)(-11.25,-6)(-10.65,-8)(-10.05,-7)
(-9.45,-9)(-8.85,-8)(-8.25,-8)(-7.65,-9)(-7.05,-7)(-6.45,-9)(-5.85,-8)(-5.25,-9)(-4.65,-8)(-4.05,-9)
(-12.25,1)(-11.65,0)(-11.05,2)(-10.45,1)(-9.85,3)(-9.25,1)(-8.65,2)(-8.05,3)(-7.45,1)(-6.85,2)
(-6.25,1)(-5.65,2)(-5.05,1)(-4.45,0)(-3.85,1)(-3.25,-1)(-11.95,-4)(-11.35,-1)(-10.75,-3)(-10.15,-3)
(-9.55,-2)(-8.95,-4)(-8.35,-5)(-7.75,-3)(-7.15,-4)(-6.55,-4)(-5.95,-5)(-5.35,-6)(-4.75,-3)(-4.15,-4)
(-12.88,-1)(-12.58,-6)(-12.28,-3)(-11.98,1)(-11.68,-7)(-11.38,-4)(-11.08,-1)(-10.78,-7)(-10.48,-4)(-10.18,0)
(-9.88,-5)(-9.58,-8)(-9.28,-2)(-8.98,-6)(-8.68,-3)(-8.38,0)(-8.08,-7)(-7.78,-5)(-7.48,-2)(-7.18,-8)
(-6.88,-4)(-6.58,-1)(-6.28,-7)(-5.98,-4)(-5.68,0)(-5.38,-4)(-5.08,-8)(-4.78,-5)(-4.48,-7)(-4.18,0)
(-3.88,-7)(-3.58,-2)(-3.28,-6)(-2.98,-4)(-2.68,-1)(-10.62,-10)(-9.02,-11)(-7.42,-11)(-5.82,-10)(-11.92,-10)
(3.12,10)(3.72,12)(4.32,7)(4.92,12)(5.52,9)(6.12,11)(6.72,7)(3.42,9)(4.62,11)(5.82,5)
(-1.22,10)(0.22,8)(1.52,12)(-2.22,9)(8.52,9)(9.72,6)(10.82,7)(11.62,4)(-11.22,5)(-9.32,4)
};
% purple
\addplot[sc=cP] coordinates {
(-13.2,12)(-13.1,5)(-13.3,9)(-12.9,14)(-13.0,3)(-12.8,7)(-12.7,11)(-12.6,2)(-12.5,5)(-12.4,4)
(-12.6,6)(-12.3,3)(-12.2,9)(-12.4,13)(-12.1,6)(-12.0,15)(-12.3,1)(-11.9,8)(-11.8,12)(-12.0,4)
(-11.7,10)(-11.6,6)(-11.5,14)(-11.4,3)(-11.6,9)(-11.3,7)(-11.2,16)(-11.4,11)(-11.1,5)(-11.0,13)
(-10.9,8)(-11.0,2)(-10.8,10)(-10.7,6)(-10.9,15)(-10.6,4)(-10.5,12)(-10.4,7)(-10.6,9)(-10.3,14)
(-10.2,5)(-10.4,3)(-10.1,11)(-10.0,8)(-10.2,16)(-9.9,6)(-9.8,13)(-10.0,1)(-9.7,9)(-9.6,4)
(-9.8,11)(-9.5,7)(-9.4,15)(-9.6,12)(-9.3,5)(-9.2,10)(-9.4,2)(-9.1,8)(-9.0,13)(-9.3,17)
(-13.1,8)(-12.9,10)(-12.7,4)(-12.5,8)(-12.2,12)(-11.9,5)(-11.7,3)(-11.5,8)(-11.3,12)(-11.1,9)
(-10.8,6)(-10.7,13)(-10.5,5)(-10.3,9)(-10.1,7)(-9.9,10)(-9.7,5)(-9.5,13)(-9.2,6)(-9.1,11)
(-12.8,15)(-12.0,10)(-11.8,7)(-11.2,4)(-10.9,11)(-10.4,10)(-10.0,12)(-9.9,3)(-10.6,14)(-11.0,7)
(-12.1,14)(-11.4,6)(-10.7,9)(-10.2,8)(-11.6,12)(-10.5,2)(-9.6,8)(-11.8,16)(-12.4,10)(-13.0,7)
(-10.8,17)(-11.5,18)(-10.3,11)(-11.9,1)(-12.6,-1)
(-8.9,9)(-8.7,13)(-8.6,6)(-8.4,11)(-8.3,15)(-8.1,8)(-8.0,4)(-7.8,12)(-7.7,7)(-7.5,14)
(-7.4,10)(-7.2,5)(-7.1,12)(-6.9,8)(-6.8,15)(-6.6,11)(-6.5,6)(-6.3,13)(-6.2,9)(-6.0,4)
(-5.9,12)(-5.7,8)(-5.6,14)(-5.4,10)(-5.3,6)(-5.1,12)(-8.8,16)(-8.5,3)(-7.9,10)(-7.3,16)
(-6.7,3)(-6.1,15)(-5.5,3)(-8.2,12)(-7.6,9)(-7.0,13)(-6.4,10)(-5.8,11)(-5.2,15)(-8.6,10)
(-4.8,13)(-4.5,9)(-4.1,15)(-3.6,11)(-3.0,14)
(6.1,-3)(6.3,-8)(6.4,1)(6.6,-5)(6.8,-11)(6.9,-2)(7.1,-7)(7.2,3)(7.4,-4)(7.5,-13)
(7.7,-6)(7.8,0)(8.0,-9)(8.1,-3)(8.3,-7)(8.4,2)(8.6,-5)(8.7,-12)(8.9,-1)(9.0,-8)
(9.2,-4)(9.3,-10)(9.5,-6)(9.6,1)(9.8,-3)(9.9,-9)(10.1,-5)(10.2,-14)(10.4,-2)(10.5,-7)
(10.7,-11)(10.8,-4)(11.0,-8)(11.1,0)(11.3,-6)(11.4,-10)(11.6,-3)(11.7,-7)(11.9,-12)(12.0,-5)
(12.1,-1)(12.2,-8)(6.2,-6)(6.5,-10)(6.7,2)(7.0,-4)(7.3,-9)(7.6,-2)(7.9,-6)(8.2,-11)
(8.5,-4)(8.8,-8)(9.1,-2)(9.4,-7)(9.7,-12)(10.0,-1)(10.3,-6)(10.6,-9)(10.9,-3)(11.2,-5)
(11.5,-8)(11.8,-2)(12.1,-10)(6.9,-7)(7.5,-1)(8.1,-5)(8.6,-9)(9.0,-5)(9.5,-3)(9.9,-6)
(10.4,-10)(10.8,-7)(11.2,-12)(11.6,-6)(12.0,-3)(7.2,-12)(7.8,-8)(8.4,-6)(9.2,-8)(9.7,-5)
(10.1,-8)(10.6,-4)(11.0,-5)(11.4,-3)(11.8,-9)(8.0,-2)(8.9,-4)(10.2,-3)(10.9,-9)(11.5,-1)
(12.2,-4)(6.4,-13)(7.0,1)(7.7,-10)(8.3,-14)(9.3,2)(9.8,-14)(10.5,3)(11.1,-13)(11.9,4)
(12.1,-15)(6.6,-1)(7.3,-5)(8.7,-3)(9.4,-12)(10.0,-10)(10.7,-1)(11.3,-9)(11.7,-4)(12.0,-7)
(8.2,-8)(9.6,-9)(10.3,-12)(11.0,-2)(11.9,-6)(7.4,-7)(8.8,-6)(10.6,-6)(11.4,-7)(9.1,-10)
(5.5,-4)(5.2,-7)(4.8,-2)(4.4,-6)(5.8,-9)(3.9,-4)(3.2,-8)(2.6,-3)(1.9,-6)(1.2,-9)
(7.1,8)(7.6,12)(8.2,10)(8.7,14)(9.3,11)(9.8,15)(10.3,9)(10.8,13)(11.3,11)(11.8,8)
(12.1,6)(8.9,7)(10.0,12)(11.6,14)
(-10.8,-26)(-9.5,-26)(6.8,-41)(9.0,32)(7.2,-33)(9.6,26)(7.8,-29)(8.2,-24)(8.7,-28)(10.3,-25)
(11.0,-22)(12.0,-25)(7.7,-22)(-8.9,-20)(-8.2,-17)(-10.6,-11)(-9.9,-13)(-7.6,-14)(4.5,23)(4.2,19)
(8.6,22)
(-13.25,10)(-13.15,4)(-13.05,13)(-12.95,6)(-12.85,9)(-12.75,2)(-12.65,12)(-12.55,7)(-12.45,3)(-12.35,11)
(-12.25,5)(-12.15,8)(-12.05,2)(-11.95,13)(-11.85,6)(-11.75,9)(-11.65,4)(-11.55,11)(-11.45,7)(-11.35,14)
(-11.25,9)(-11.15,6)(-11.05,11)(-10.95,4)(-10.85,8)(-10.75,12)(-10.65,6)(-10.55,9)(-10.45,5)(-10.35,12)
(-10.25,7)(-10.15,3)(-10.05,10)(-9.95,8)(-9.85,5)(-9.75,12)(-9.65,9)(-9.55,6)(-9.45,10)(-9.35,8)
(-9.25,13)(-9.15,4)(-9.05,9)(-12.85,4)(-12.45,6)(-12.05,7)(-11.65,7)(-11.25,3)(-10.85,5)(-10.45,8)
(-10.05,6)(-9.65,11)(-9.25,8)(-12.65,9)(-12.25,10)(-11.85,10)(-11.45,9)(-11.05,8)(-10.65,11)(-10.25,10)
(-9.85,7)(-13.05,8)(-12.15,4)(-11.35,5)(-10.55,7)(-9.75,6)(-9.45,14)(-10.95,14)(-11.75,13)(-12.55,13)
(6.05,-5)(6.25,-2)(6.45,-9)(6.65,-4)(6.85,-7)(7.05,-10)(7.25,-3)(7.45,-8)(7.65,-5)(7.85,-11)
(8.05,-6)(8.25,-3)(8.45,-9)(8.65,-7)(8.85,-2)(9.05,-11)(9.25,-6)(9.45,-4)(9.65,-8)(9.85,-5)
(10.05,-7)(10.25,-4)(10.45,-9)(10.65,-2)(10.85,-6)(11.05,-10)(11.25,-3)(11.45,-6)(11.65,-9)(11.85,-4)
(12.05,-11)(12.15,-5)(6.35,-7)(6.75,-9)(7.15,-6)(7.55,-4)(7.95,-7)(8.35,-5)(8.75,-10)(9.15,-7)
(9.55,-10)(9.95,-3)(10.35,-8)(10.75,-5)(11.15,-9)(11.55,-4)(11.95,-8)(8.15,-8)(8.55,-3)(8.95,-6)
(9.35,-9)(9.75,-2)(10.15,-10)(10.55,-6)(10.95,-8)(11.35,-5)(11.75,-11)(12.1,-2)(7.35,0)(7.75,-12)
(8.45,1)(9.05,-13)(9.85,0)(10.65,-12)(11.45,1)(12.0,-13)(6.55,-11)(7.05,-1)(7.95,-2)(8.95,-9)
(9.45,-7)(10.05,-4)(10.55,-10)(11.05,-4)(11.65,-7)(12.15,-9)(6.95,-4)(8.25,-9)(9.65,-5)(10.85,-7)
(-13.22,7)(-13.08,11)(-12.92,4)(-12.78,13)(-12.62,8)(-12.48,15)(-12.32,6)(-12.18,11)(-12.02,3)(-11.88,14)
(-11.72,5)(-11.58,10)(-11.42,16)(-11.28,7)(-11.12,12)(-10.98,3)(-10.82,14)(-10.68,8)(-10.52,16)(-10.38,5)
(-10.22,12)(-10.08,9)(-9.92,14)(-9.78,4)(-9.62,16)(-9.48,9)(-9.32,12)(-9.18,6)(-9.02,15)(-8.88,11)
(-8.72,5)(-8.58,14)(-8.42,8)(-8.28,13)(-8.12,6)(-7.98,15)(-7.82,9)(-7.68,12)(-7.52,7)(-7.38,13)
(-7.22,8)(-7.08,15)(-6.92,11)(-6.78,6)(-6.62,14)(-6.48,9)(-6.32,12)(-6.18,7)(-6.02,13)(-5.88,9)
(6.02,-8)(6.18,-1)(6.32,-6)(6.48,-3)(6.62,-10)(6.78,-5)(6.92,-1)(7.08,-8)(7.22,-5)(7.38,-2)
(7.52,-9)(7.68,-6)(7.82,-3)(7.98,-10)(8.12,-7)(8.28,-1)(8.42,-5)(8.58,-11)(8.72,-8)(8.88,-4)
(9.02,-2)(9.18,-9)(9.32,-6)(9.48,-12)(9.62,-4)(9.78,-7)(9.92,-1)(10.08,-9)(10.22,-6)(10.38,-11)
(10.52,-3)(10.68,-7)(10.82,-10)(10.98,-6)(11.12,-2)(11.28,-8)(11.42,-12)(11.58,-5)(11.72,-1)(11.88,-7)
(12.02,-9)(12.18,-3)(7.12,-13)(8.02,-12)(9.12,-13)(10.12,-13)(11.22,-14)(12.12,-12)(8.62,0)(10.42,1)
(11.02,3)(9.42,4)(7.62,2)(12.08,1)(11.68,6)(10.72,5)(9.98,8)(8.48,5)(7.42,6)(6.58,4)
};
% yellow
\addplot[sc=cY] coordinates {
(-11.0,-4)(-10.7,0)(-10.4,-7)(-10.1,-2)(-9.8,-9)(-9.5,-5)(-9.2,0)(-8.9,-3)(-8.6,-8)(-8.3,-1)
(-8.0,-6)(-7.7,-10)(-7.4,-3)(-7.1,-7)(-6.8,-1)(-6.5,-5)(-6.2,-9)(-11.3,-8)(-9.6,2)(-7.9,1)
(-7.5,-21)(-7.3,-23)(-6.6,-14)(-5.1,25)(-5.8,-12)(-12.3,-7)(-12.7,-11)(-13.2,-10)(-4.7,15)(-4.1,-13)
(8.6,6)(8.9,10)(9.2,4)(9.5,13)(8.8,8)(11.3,8)(11.6,11)(11.9,6)(12.1,13)(11.5,5)
(5.4,34)(6.9,25)(11.4,-48)(10.2,-11)(9.3,-3)(7.0,-19)(4.5,-8)(3.0,-2)(1.0,15)(-0.5,8)
(-2.8,10)(2.9,-15)(0.1,-11)(-3.5,-17)(6.2,13)
(-10.85,-3)(-10.25,-6)(-9.65,-1)(-9.05,-7)(-8.45,-4)(-7.85,-8)(-7.25,-2)(-6.65,-6)(-6.05,-1)(-11.55,-1)
(-12.5,-4)(-8.15,0)(-9.35,-9)(10.7,9)(9.1,6)(11.8,9)(12.05,4)(8.75,12)(-10.4,2)(-7.55,-8)
(-10.62,-5)(-9.92,-2)(-9.22,-7)(-8.52,-5)(-7.72,-4)(-7.02,-1)(-6.32,-3)(-11.72,-6)(9.02,8)(11.42,10)
(9.72,13)(12.12,7)(-2.12,-6)(1.82,3)(-4.42,-6)
};
\end{axis}
\path ([shift={(-91.5pt,-35pt)}]current axis.south west) rectangle ([shift={(67.5pt,23.5pt)}]current axis.north east);
\end{tikzpicture}
\end{document}
